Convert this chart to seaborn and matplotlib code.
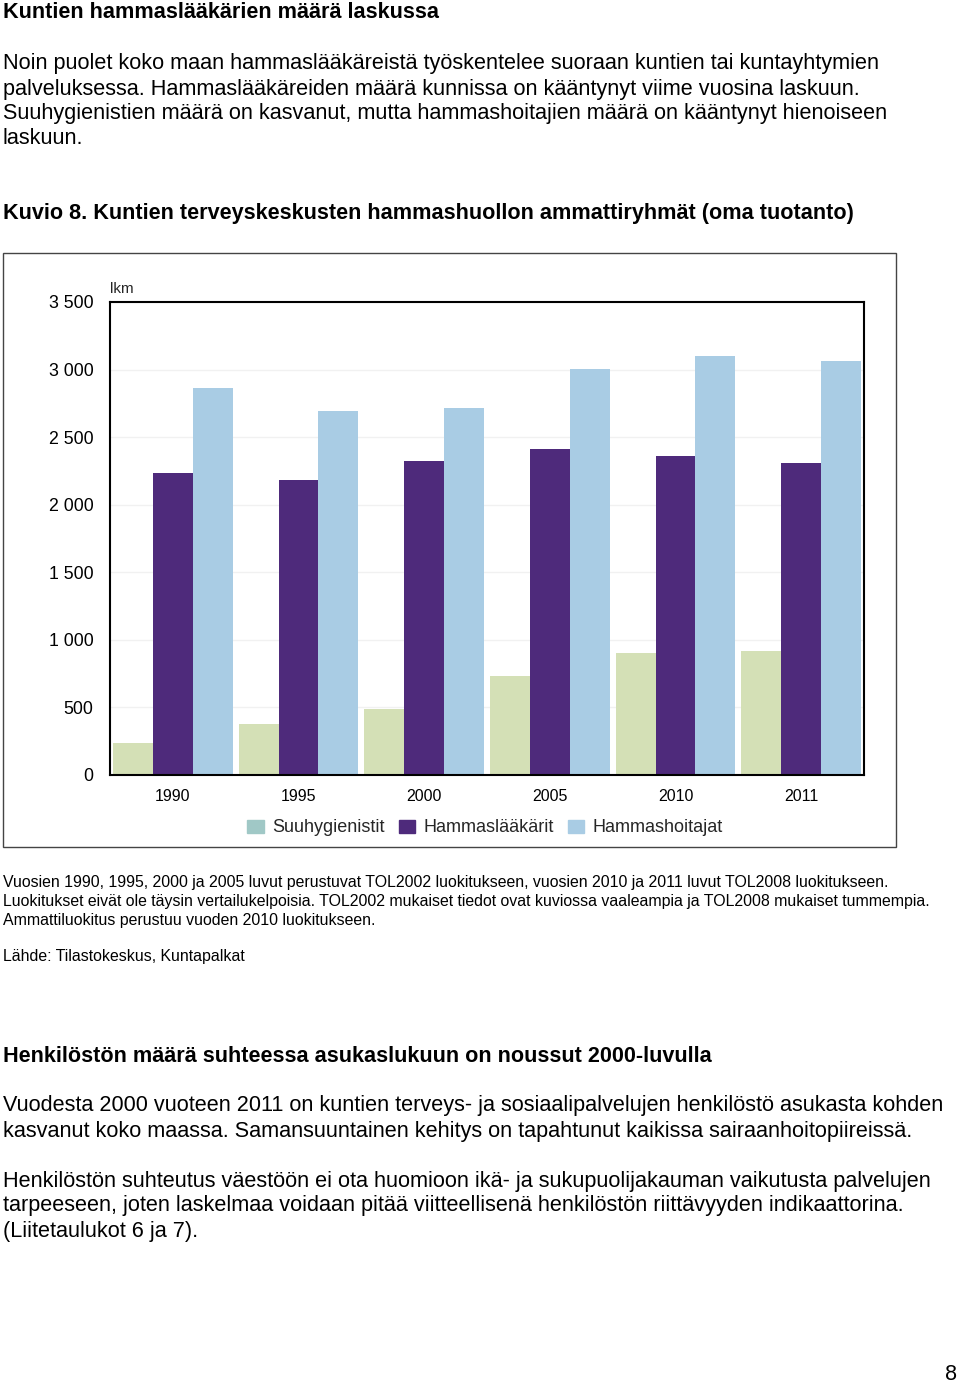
import matplotlib

matplotlib.use("Agg")
import matplotlib.pyplot as plt
import matplotlib.patches as mpatches
import pandas as pd
import seaborn as sns

# chart data
years = ["1990", "1995", "2000", "2005", "2010", "2011"]
groups = ["Suuhygienistit", "Hammaslääkärit", "Hammashoitajat"]
suuhygienistit = [235, 375, 485, 730, 900, 920]
hammaslaakarit = [2235, 2185, 2325, 2410, 2360, 2310]
hammashoitajat = [2865, 2695, 2715, 3005, 3100, 3065]
y_ticks = [0, 500, 1000, 1500, 2000, 2500, 3000, 3500]
y_tick_labels = ["0", "500", "1 000", "1 500", "2 000", "2 500", "3 000", "3 500"]

bar_colors = ["#d4e0b6", "#4e2a7b", "#a9cce4"]
legend_colors = ["#a0c8c6", "#4e2a7b", "#a9cce4"]

W, H = 960, 1385
FONT = ["Liberation Sans", "DejaVu Sans"]

sns.set_theme(style="white")
plt.rcParams["font.family"] = FONT


def px_x(x):
    return x / W


def px_y(y):
    return 1 - y / H


def page_text(fig, x, y, s, size=15.6, bold=False, ha="left"):
    fig.text(px_x(x), px_y(y), s, fontsize=size,
             fontweight="bold" if bold else "normal", ha=ha, va="center", color="black")


df = pd.DataFrame({
    "year": years * 3,
    "group": [g for g in groups for _ in years],
    "value": suuhygienistit + hammaslaakarit + hammashoitajat,
})

fig = plt.figure(figsize=(W / 100, H / 100), dpi=100)
fig.patch.set_facecolor("white")

# outer frame of the figure box
fig.patches.append(mpatches.Rectangle((px_x(3), px_y(847)), px_x(893), 594 / H,
                                      transform=fig.transFigure, fill=False,
                                      edgecolor="#444444", linewidth=1.0))

ax = fig.add_axes([px_x(110), px_y(775), px_x(754), 473 / H])
sns.barplot(data=df, x="year", y="value", hue="group", hue_order=groups,
            palette=dict(zip(groups, bar_colors)), saturation=1, width=0.952,
            legend=False, ax=ax, edgecolor="none", linewidth=0)
ax.set_xlim(-0.5, 5.5)
ax.set_ylim(0, 3500)
ax.set_yticks(y_ticks)
ax.set_yticklabels(y_tick_labels)
ax.set_xlabel("")
ax.set_ylabel("")
ax.tick_params(axis="y", length=0, pad=12, labelsize=12.8, colors="black")
ax.tick_params(axis="x", length=0, pad=10, labelsize=11.5, colors="black")
ax.yaxis.grid(True, color="#f1f1f1", linewidth=1)
ax.set_axisbelow(True)
for spine in ax.spines.values():
    spine.set_visible(True)
    spine.set_color("black")
    spine.set_linewidth(1.5)

fig.text(px_x(110), px_y(289), "lkm", fontsize=11, ha="left", va="center")

handles = [mpatches.Patch(color=c, label=g) for g, c in zip(groups, legend_colors)]
fig.legend(handles=handles, loc="center", bbox_to_anchor=(px_x(485), px_y(828)),
           ncol=3, frameon=False, fontsize=13, handlelength=0.9, handleheight=0.75,
           handletextpad=0.45, columnspacing=0.8)

# page text
page_text(fig, 3, 12, "Kuntien hammaslääkärien määrä laskussa", bold=True)
body1 = [
    "Noin puolet koko maan hammaslääkäreistä työskentelee suoraan kuntien tai kuntayhtymien",
    "palveluksessa. Hammaslääkäreiden määrä kunnissa on kääntynyt viime vuosina laskuun.",
    "Suuhygienistien määrä on kasvanut, mutta hammashoitajien määrä on kääntynyt hienoiseen",
    "laskuun.",
]
for i, line in enumerate(body1):
    page_text(fig, 3, 64 + 25 * i, line)
page_text(fig, 3, 214, "Kuvio 8. Kuntien terveyskeskusten hammashuollon ammattiryhmät (oma tuotanto)",
          bold=True)

notes = [
    "Vuosien 1990, 1995, 2000 ja 2005 luvut perustuvat TOL2002 luokitukseen, vuosien 2010 ja 2011 luvut TOL2008 luokitukseen.",
    "Luokitukset eivät ole täysin vertailukelpoisia. TOL2002 mukaiset tiedot ovat kuviossa vaaleampia ja TOL2008 mukaiset tummempia.",
    "Ammattiluokitus perustuu vuoden 2010 luokitukseen.",
]
for i, line in enumerate(notes):
    page_text(fig, 3, 883 + 18.5 * i, line, size=11.4)
page_text(fig, 3, 957, "Lähde: Tilastokeskus, Kuntapalkat", size=11.4)

page_text(fig, 3, 1056, "Henkilöstön määrä suhteessa asukaslukuun on noussut 2000-luvulla", bold=True)
body2 = [
    (1106, "Vuodesta 2000 vuoteen 2011 on kuntien terveys- ja sosiaalipalvelujen henkilöstö asukasta kohden"),
    (1131, "kasvanut koko maassa. Samansuuntainen kehitys on tapahtunut kaikissa sairaanhoitopiireissä."),
    (1181, "Henkilöstön suhteutus väestöön ei ota huomioon ikä- ja sukupuolijakauman vaikutusta palvelujen"),
    (1206, "tarpeeseen, joten laskelmaa voidaan pitää viitteellisenä henkilöstön riittävyyden indikaattorina."),
    (1231, "(Liitetaulukot 6 ja 7)."),
]
for y, line in body2:
    page_text(fig, 3, y, line)
page_text(fig, 957, 1374, "8", ha="right")

fig.savefig("out.png", dpi=100, facecolor="white")
